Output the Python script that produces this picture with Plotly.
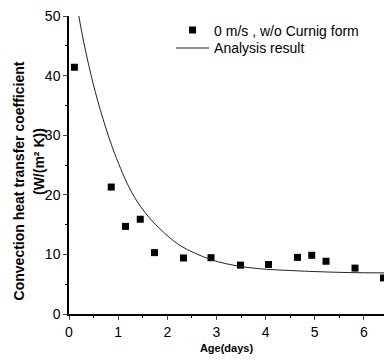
import plotly.graph_objects as go

# Measured data points
age_days = [0.11, 0.86, 1.15, 1.45, 1.74, 2.33, 2.89, 3.49, 4.06, 4.65, 4.94, 5.23, 5.82, 6.40]
h_meas = [41.4, 21.3, 14.7, 15.9, 10.3, 9.4, 9.45, 8.2, 8.3, 9.5, 9.85, 8.85, 7.7, 6.05]

# Analysis result curve
age_curve = [0.20, 0.30, 0.49, 0.69, 0.93, 1.27, 1.55, 1.85, 2.26, 2.90, 3.48, 4.02, 4.50, 4.90, 5.72, 6.42]
h_curve = [50.0, 45.6, 38.7, 32.8, 26.9, 20.5, 17.0, 14.3, 11.5, 9.1, 8.0, 7.5, 7.3, 7.15, 6.95, 6.9]

x_ticks = [0, 1, 2, 3, 4, 5, 6]
y_ticks = [0, 10, 20, 30, 40, 50]

font_family = "Liberation Sans, Arial, sans-serif"
tick_family = "Liberation Sans Narrow, Arial Narrow, Liberation Sans, sans-serif"

fig = go.Figure()
fig.add_trace(go.Scatter(
    x=age_days, y=h_meas, mode="markers", name="0 m/s , w/o Curnig form",
    marker=dict(symbol="square", size=7, color="black"), legend="legend",
))
fig.add_trace(go.Scatter(
    x=age_curve, y=h_curve, mode="lines", name="Analysis result",
    line=dict(color="#222222", width=1, shape="spline"), legend="legend2",
))

leg_common = dict(xanchor="left", yanchor="top", bgcolor="rgba(0,0,0,0)",
                  font=dict(size=14, family=font_family), itemwidth=33)

fig.update_layout(
    width=384, height=362,
    margin=dict(l=69, r=0, t=16, b=48),
    paper_bgcolor="white", plot_bgcolor="white",
    font=dict(family=font_family, color="black", size=13),
    showlegend=True,
    legend=dict(x=0.324, y=1.005, **leg_common),
    legend2=dict(x=0.324, y=0.945, **leg_common),
    xaxis=dict(
        range=[0, 6.41], tickvals=x_ticks, ticks="outside", ticklen=4, tickwidth=1,
        showline=True, linecolor="black", linewidth=1.5, showgrid=False, zeroline=False,
        minor=dict(ticks="outside", ticklen=2, dtick=0.5, tickcolor="black"),
        tickfont=dict(size=14, family=tick_family),
        title=dict(text="<b>Age(days)</b>", font=dict(size=11), standoff=6),
    ),
    yaxis=dict(
        range=[0, 50], tickvals=y_ticks, ticks="outside", ticklen=4, tickwidth=1,
        showline=True, linecolor="black", linewidth=1.5, showgrid=False, zeroline=False,
        minor=dict(ticks="outside", ticklen=2, dtick=5, tickcolor="black"),
        tickfont=dict(size=14, family=tick_family),
    ),
    annotations=[
        dict(text="<b>Convection heat transfer coefficient</b>", xref="paper", yref="paper",
             x=-69/315, y=0.445, xanchor="left", yanchor="middle", textangle=-90,
             showarrow=False, font=dict(size=14), xshift=9),
        dict(text="<b>(W/(m² K))</b>", xref="paper", yref="paper",
             x=-69/315, y=0.51, xanchor="left", yanchor="middle", textangle=-90,
             showarrow=False, font=dict(size=14), xshift=29),
    ],
)

fig.write_html("out.html")
